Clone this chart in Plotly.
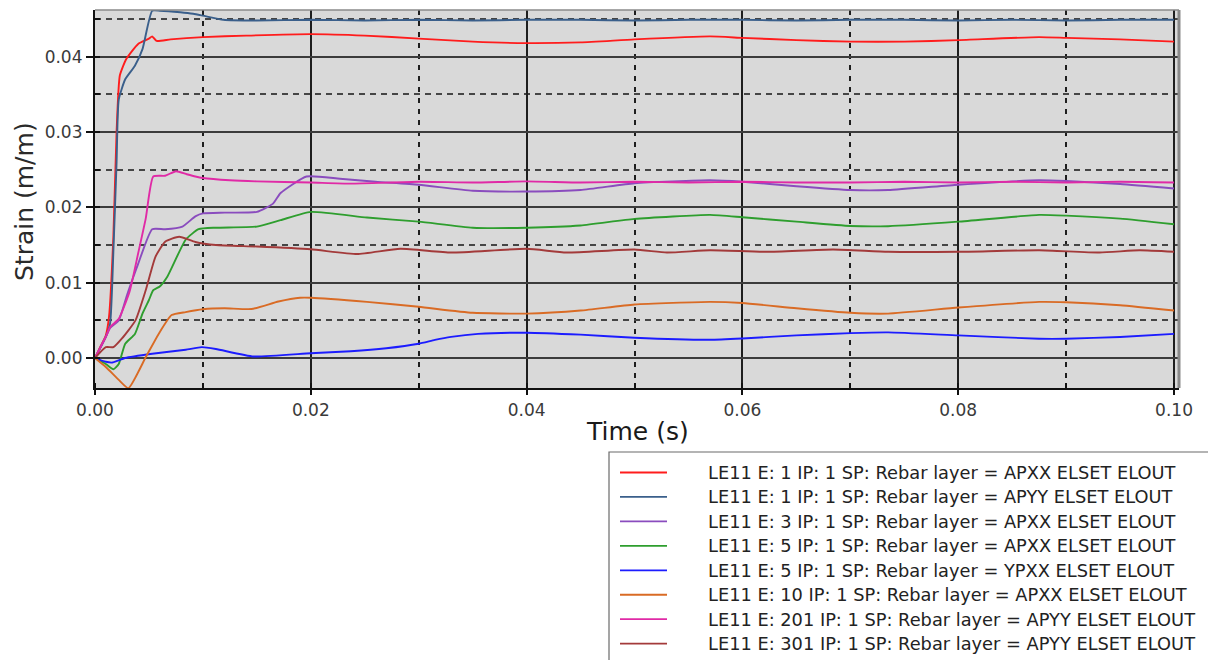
import plotly.graph_objects as go

# ---- data: time (s) and strain (m/m) for each rebar output ----
t_e1_apxx = [0, 0.0005, 0.001, 0.0013, 0.0017, 0.0020, 0.0023, 0.0029, 0.0040, 0.0050, 0.0053, 0.0057,
             0.007, 0.010, 0.014, 0.020, 0.025, 0.030, 0.035, 0.040, 0.045, 0.050, 0.057, 0.060,
             0.065, 0.070, 0.075, 0.080, 0.0875, 0.090, 0.095, 0.100]
e1_apxx = [0, 0.0015, 0.0030, 0.0055, 0.016, 0.030, 0.0375, 0.0397, 0.0417, 0.0424, 0.0427, 0.0421,
           0.0423, 0.0426, 0.0428, 0.0430, 0.0428, 0.0424, 0.0420, 0.0418, 0.0419, 0.0423, 0.0427, 0.0425,
           0.0422, 0.0420, 0.0420, 0.0422, 0.0426, 0.0425, 0.0423, 0.0420]

t_e1_apyy = [0, 0.0010, 0.0014, 0.0017, 0.0020, 0.0022, 0.0028, 0.0037, 0.0044, 0.0053, 0.0060,
             0.0079, 0.0091, 0.0100, 0.0119, 0.015, 0.020, 0.025, 0.030, 0.035, 0.040, 0.045,
             0.050, 0.055, 0.060, 0.065, 0.070, 0.075, 0.080, 0.085, 0.090, 0.095, 0.100]
e1_apyy = [0, 0.0028, 0.0046, 0.014, 0.026, 0.0343, 0.0370, 0.0388, 0.0410, 0.0461, 0.0461,
           0.0459, 0.0457, 0.04545, 0.0449, 0.0448, 0.0449, 0.0448, 0.0449, 0.0448, 0.0449, 0.0449,
           0.0448, 0.0449, 0.0449, 0.0448, 0.0449, 0.0449, 0.0448, 0.0449, 0.0448, 0.0449, 0.0449]

t_e3_apxx = [0, 0.001, 0.0014, 0.0022, 0.0030, 0.0040, 0.0053, 0.0065, 0.0081, 0.0093, 0.010, 0.012,
             0.015, 0.0165, 0.0172, 0.0196, 0.0227, 0.026, 0.030, 0.035, 0.040, 0.045, 0.050, 0.057,
             0.060, 0.065, 0.070, 0.0735, 0.080, 0.0875, 0.090, 0.095, 0.100]
e3_apxx = [0, 0.0028, 0.0040, 0.0050, 0.0085, 0.0125, 0.0171, 0.0171, 0.01745, 0.0188, 0.0192, 0.0193,
           0.0194, 0.0205, 0.0219, 0.0241, 0.0238, 0.0234, 0.0230, 0.0222, 0.0221, 0.0223, 0.0232, 0.0236,
           0.0234, 0.0228, 0.0223, 0.0223, 0.0230, 0.0236, 0.0235, 0.0231, 0.0225]

t_e5_apxx = [0, 0.001, 0.0017, 0.0022, 0.0028, 0.0037, 0.0044, 0.0050, 0.0054, 0.0060, 0.0067, 0.0084,
             0.0096, 0.0112, 0.015, 0.0172, 0.020, 0.0252, 0.030, 0.035, 0.040, 0.045, 0.050, 0.057,
             0.060, 0.065, 0.070, 0.0735, 0.080, 0.0875, 0.090, 0.095, 0.100]
e5_apxx = [0, -0.0008, -0.0015, -0.0008, 0.0019, 0.0032, 0.0059, 0.0077, 0.0090, 0.0095, 0.0108, 0.0157,
           0.0171, 0.0173, 0.01745, 0.0183, 0.0194, 0.01865, 0.0181, 0.0173, 0.0173, 0.0176, 0.01847, 0.0190,
           0.01869, 0.0181, 0.01753, 0.0175, 0.0181, 0.0190, 0.0189, 0.0185, 0.01776]

t_e5_ypxx = [0, 0.001, 0.0016, 0.0028, 0.0053, 0.0084, 0.0099, 0.0112, 0.0147, 0.020, 0.0237, 0.027,
             0.030, 0.0315, 0.033, 0.0355, 0.040, 0.045, 0.050, 0.057, 0.060, 0.065, 0.070, 0.0735,
             0.080, 0.0875, 0.090, 0.095, 0.100]
e5_ypxx = [0, -0.0005, -0.0006, 0.0, 0.00056, 0.0011, 0.00144, 0.0012, 0.0002, 0.00064, 0.0009, 0.0013,
           0.0019, 0.0024, 0.0028, 0.0032, 0.00336, 0.0031, 0.0027, 0.00243, 0.0026, 0.0030, 0.0033, 0.0034,
           0.0030, 0.00256, 0.00256, 0.0028, 0.0032]

t_e10_apxx = [0, 0.001, 0.0022, 0.0031, 0.0047, 0.0059, 0.0071, 0.0084, 0.010, 0.012, 0.0145, 0.017,
              0.019, 0.020, 0.0252, 0.030, 0.035, 0.040, 0.045, 0.050, 0.057, 0.060, 0.065, 0.070,
              0.0735, 0.080, 0.0875, 0.090, 0.095, 0.100]
e10_apxx = [0, -0.0012, -0.0029, -0.0040, 0.0001, 0.0032, 0.0057, 0.0061, 0.00647, 0.0066, 0.0065, 0.0075,
            0.0080, 0.0080, 0.00745, 0.0068, 0.0060, 0.0059, 0.0063, 0.0071, 0.00745, 0.0073, 0.0066, 0.0060,
            0.0059, 0.0067, 0.00745, 0.0074, 0.0070, 0.0063]

t_e201_apyy = [0, 0.001, 0.0014, 0.0022, 0.0032, 0.0040, 0.0047, 0.0054, 0.0065, 0.0075, 0.0085, 0.0093,
               0.010, 0.0125, 0.015, 0.020, 0.0237, 0.030, 0.035, 0.040, 0.045, 0.050, 0.055, 0.060,
               0.065, 0.070, 0.075, 0.080, 0.085, 0.090, 0.095, 0.100]
e201_apyy = [0, 0.0028, 0.0041, 0.0052, 0.0088, 0.0139, 0.0185, 0.0241, 0.0242, 0.0248, 0.0244, 0.0241,
             0.0239, 0.0236, 0.02345, 0.0233, 0.02315, 0.0234, 0.0233, 0.02345, 0.0233, 0.0234, 0.0233, 0.0234,
             0.0233, 0.0233, 0.0234, 0.0233, 0.0234, 0.0233, 0.0234, 0.0233]

t_e301_apyy = [0, 0.001, 0.0017, 0.0025, 0.00375, 0.0047, 0.0056, 0.0065, 0.0078, 0.0093, 0.0112, 0.015,
               0.020, 0.0243, 0.0283, 0.033, 0.040, 0.0437, 0.050, 0.053, 0.057, 0.0623, 0.0684, 0.0735,
               0.080, 0.0875, 0.0931, 0.0968, 0.100]
e301_apyy = [0, 0.00144, 0.00144, 0.0026, 0.0050, 0.0090, 0.01344, 0.01544, 0.0161, 0.0154, 0.0150, 0.0148,
             0.01443, 0.0138, 0.0145, 0.0140, 0.0145, 0.0140, 0.0144, 0.0140, 0.0143, 0.0141, 0.0144, 0.0141,
             0.0141, 0.0143, 0.0140, 0.0143, 0.0141]

series_names = [
    "LE11 E: 1 IP: 1 SP: Rebar layer = APXX ELSET ELOUT",
    "LE11 E: 1 IP: 1 SP: Rebar layer = APYY ELSET ELOUT",
    "LE11 E: 3 IP: 1 SP: Rebar layer = APXX ELSET ELOUT",
    "LE11 E: 5 IP: 1 SP: Rebar layer = APXX ELSET ELOUT",
    "LE11 E: 5 IP: 1 SP: Rebar layer = YPXX ELSET ELOUT",
    "LE11 E: 10 IP: 1 SP: Rebar layer = APXX ELSET ELOUT",
    "LE11 E: 201 IP: 1 SP: Rebar layer = APYY ELSET ELOUT",
    "LE11 E: 301 IP: 1 SP: Rebar layer = APYY ELSET ELOUT",
]
series_t = [t_e1_apxx, t_e1_apyy, t_e3_apxx, t_e5_apxx, t_e5_ypxx, t_e10_apxx, t_e201_apyy, t_e301_apyy]
series_y = [e1_apxx, e1_apyy, e3_apxx, e5_apxx, e5_ypxx, e10_apxx, e201_apyy, e301_apyy]
series_colors = ["#ff1c1c", "#3a5f8b", "#8a4cbe", "#2e9e2e", "#1c1cff", "#d96b25", "#e02aa6", "#a33a3a"]

x_ticks = [0.00, 0.02, 0.04, 0.06, 0.08, 0.10]
y_ticks = [0.00, 0.01, 0.02, 0.03, 0.04]

# ---- figure geometry (pixels) ----
W, H = 1208, 660
L, R, T, B = 95, 29, 10, 272
plot_w, plot_h = W - L - R, H - T - B


def px_x(px):
    return (px - L) / plot_w


def px_y(py):
    return (H - B - py) / plot_h


fig = go.Figure()
for name, tx, ty, col in zip(series_names, series_t, series_y, series_colors):
    fig.add_trace(go.Scatter(
        x=tx, y=ty, name=name, mode="lines",
        line=dict(color=col, width=1.9, shape="spline", smoothing=0.5),
        showlegend=False,
    ))

tick_font = dict(family="DejaVu Sans", size=17, color="#3a3a3a")

fig.update_xaxes(
    range=[0, 0.10046], tickvals=x_ticks, ticktext=[f"{v:.2f}" for v in x_ticks],
    showgrid=True, gridcolor="#1e1e1e", gridwidth=2,
    minor=dict(dtick=0.01, tick0=0, showgrid=True, gridcolor="#1e1e1e", gridwidth=2,
               griddash="5px,6px", ticks="inside", ticklen=5, tickcolor="#111111"),
    ticks="outside", ticklen=5, tickcolor="#111111", tickwidth=2,
    showline=True, linecolor="#111111", linewidth=2.2,
    zeroline=False, tickfont=tick_font,
)
fig.update_yaxes(
    range=[-0.00398, 0.0462], tickvals=y_ticks, ticktext=[f"{v:.2f}" for v in y_ticks],
    showgrid=True, gridcolor="#3c3c3c", gridwidth=2,
    minor=dict(dtick=0.005, tick0=0, showgrid=True, gridcolor="#454545", gridwidth=2,
               griddash="6px,5px", ticks="inside", ticklen=5, tickcolor="#111111"),
    ticks="outside", ticklen=7, tickcolor="#111111", tickwidth=2,
    showline=True, linecolor="#111111", linewidth=2.2,
    zeroline=False, tickfont=tick_font,
)

shapes = [
    # gray frame on the top and right of the plotting area
    dict(type="line", xref="paper", yref="paper", x0=0, x1=1, y0=1, y1=1,
         line=dict(color="#8a8a8a", width=1.5)),
    dict(type="line", xref="paper", yref="paper", x0=1, x1=1, y0=0, y1=1,
         line=dict(color="#8a8a8a", width=3)),
    # legend box
    dict(type="rect", xref="paper", yref="paper", x0=px_x(609), x1=px_x(1220),
         y0=px_y(675), y1=px_y(452), line=dict(color="#6a6a6a", width=1.2),
         fillcolor="white", layer="above"),
]
annotations = [
    dict(text="Time (s)", xref="paper", yref="paper", x=px_x(637), y=px_y(431),
         showarrow=False, xanchor="center", yanchor="middle",
         font=dict(family="DejaVu Sans", size=25, color="#1a1a1a")),
    dict(text="Strain (m/m)", xref="paper", yref="paper", x=px_x(24), y=px_y(202),
         showarrow=False, xanchor="center", yanchor="middle", textangle=-90,
         font=dict(family="DejaVu Sans", size=25, color="#2a2a2a")),
]
row0, row_step = 472.5, 24.45
for i, (name, col) in enumerate(zip(series_names, series_colors)):
    yy = px_y(row0 + i * row_step)
    shapes.append(dict(type="line", xref="paper", yref="paper", x0=px_x(620), x1=px_x(667),
                       y0=yy, y1=yy, line=dict(color=col, width=1.8), layer="above"))
    annotations.append(dict(text=name, xref="paper", yref="paper", x=px_x(706), y=yy,
                            showarrow=False, xanchor="left", yanchor="middle",
                            font=dict(family="DejaVu Sans", size=17.8, color="#222222")))

fig.update_layout(
    width=W, height=H, autosize=False,
    margin=dict(l=L, r=R, t=T, b=B, pad=0),
    plot_bgcolor="#d9d9d9", paper_bgcolor="white",
    shapes=shapes, annotations=annotations,
    showlegend=False,
)

fig.write_html("out.html")
